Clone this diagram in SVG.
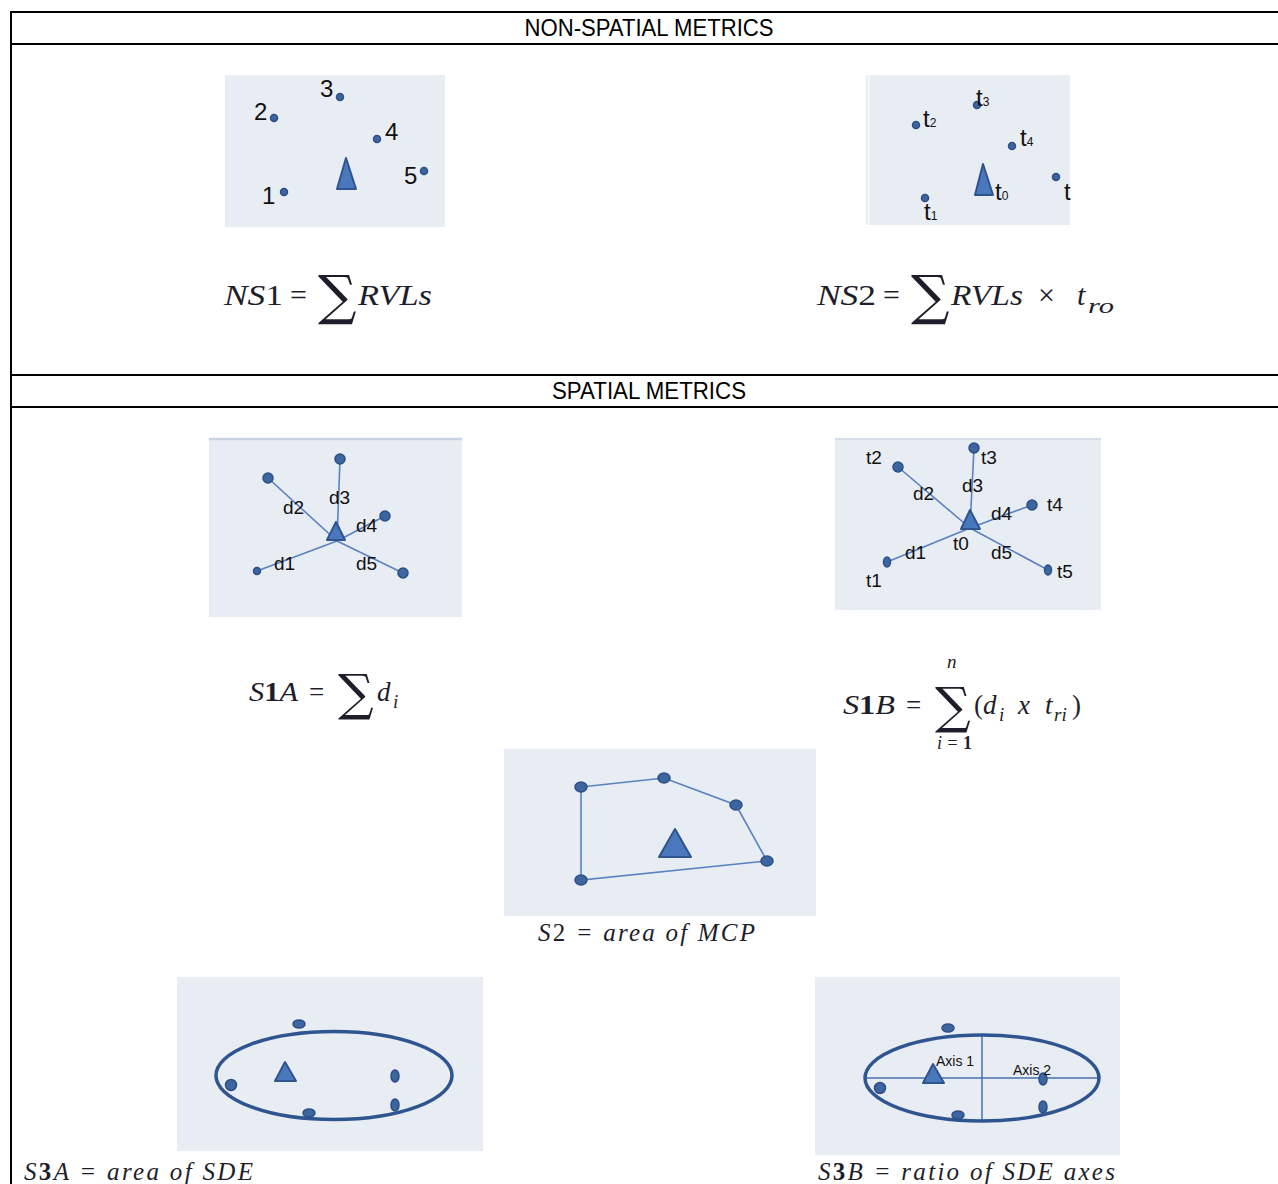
<svg xmlns="http://www.w3.org/2000/svg" width="1278" height="1184" viewBox="0 0 1278 1184">
<style>
.hdr{font-family:'Liberation Sans Narrow','Liberation Sans',Arial,sans-serif;font-size:23px;fill:#000;text-anchor:middle}
.panel{fill:#e8ecf3}
.dot{fill:#3d65a0;stroke:#2c4f85;stroke-width:1.5}
.tri{fill:#4a78bd;stroke:#2f5590;stroke-width:2;stroke-linejoin:round}
.ray{stroke:#5a82c0;stroke-width:1.6;fill:none}
.lbl{font-family:'Liberation Sans',Arial,sans-serif;fill:#111}
.num{font-family:'Liberation Sans',Arial,sans-serif;font-size:24px;fill:#111}
.math{font-family:'Liberation Serif','DejaVu Serif',serif;fill:#1e1e2a}
.it{font-style:italic}
.sum{font-family:'DejaVu Serif','Liberation Serif',serif;fill:#1e1e2a}
.tab{stroke:#000;stroke-width:2;fill:none}
.ell{fill:none;stroke:#2f5590;stroke-width:3.5}
</style>
<g id="table">
<line class="tab" x1="11" y1="12" x2="1278" y2="12"/>
<line class="tab" x1="11" y1="44" x2="1278" y2="44"/>
<line class="tab" x1="11" y1="375" x2="1278" y2="375"/>
<line class="tab" x1="11" y1="407" x2="1278" y2="407"/>
<line class="tab" x1="11" y1="11" x2="11" y2="1184"/>
<text class="hdr" x="649" y="36" textLength="249" lengthAdjust="spacingAndGlyphs">NON-SPATIAL METRICS</text>
<text class="hdr" x="649" y="399" textLength="194" lengthAdjust="spacingAndGlyphs">SPATIAL METRICS</text>
</g>
<g id="ns1">
<rect class="panel" x="225" y="75" width="220" height="152"/>
<circle class="dot" cx="274" cy="118" r="3.5"/>
<circle class="dot" cx="340" cy="97" r="3.5"/>
<circle class="dot" cx="377" cy="139" r="3.5"/>
<circle class="dot" cx="424" cy="171" r="3.5"/>
<circle class="dot" cx="284" cy="192" r="3.5"/>
<polygon class="tri" points="346,158 337,189 356,189"/>
<text class="num" x="254" y="120">2</text>
<text class="num" x="320" y="97">3</text>
<text class="num" x="385" y="140">4</text>
<text class="num" x="404" y="184">5</text>
<text class="num" x="262" y="204">1</text>
<text class="math it" x="224" y="305" font-size="30" textLength="59" lengthAdjust="spacingAndGlyphs">NS<tspan font-style="normal">1</tspan></text>
<text class="math" x="290" y="305" font-size="30">=</text>
<text class="sum" x="318" y="314" font-size="54">∑</text>
<text class="math it" x="358" y="305" font-size="30" textLength="74" lengthAdjust="spacingAndGlyphs">RVLs</text>
</g>
<g id="ns2">
<rect class="panel" x="866" y="75" width="204" height="150"/>
<line x1="868.5" y1="75" x2="868.5" y2="225" stroke="#f6f8fb" stroke-width="2"/>
<circle class="dot" cx="916" cy="125" r="3.5"/>
<circle class="dot" cx="977" cy="105" r="3.5"/>
<circle class="dot" cx="1012" cy="146" r="3.5"/>
<circle class="dot" cx="1056" cy="177" r="3.5"/>
<circle class="dot" cx="925" cy="198" r="3.5"/>
<polygon class="tri" points="983,164 975,195 993,195"/>
<text class="num" x="923" y="127">t<tspan font-size="12">2</tspan></text>
<text class="num" x="976" y="106">t<tspan font-size="12">3</tspan></text>
<text class="num" x="1020" y="146">t<tspan font-size="12">4</tspan></text>
<text class="num" x="1064" y="200">t</text>
<text class="num" x="995" y="200">t<tspan font-size="12">0</tspan></text>
<text class="num" x="924" y="220">t<tspan font-size="12">1</tspan></text>
<text class="math it" x="817" y="305" font-size="30" textLength="59" lengthAdjust="spacingAndGlyphs">NS<tspan font-style="normal">2</tspan></text>
<text class="math" x="883" y="305" font-size="30">=</text>
<text class="sum" x="911" y="314" font-size="54">∑</text>
<text class="math it" x="951" y="305" font-size="30" textLength="72" lengthAdjust="spacingAndGlyphs">RVLs</text>
<text class="math" x="1038" y="305" font-size="30">×</text>
<text class="math it" x="1077" y="305" font-size="30">t</text>
<text class="math it" x="1088" y="313" font-size="22" textLength="26" lengthAdjust="spacingAndGlyphs">ro</text>
</g>
<g id="s1a">
<rect class="panel" x="209" y="438" width="253" height="179"/>
<line x1="209" y1="439" x2="462" y2="439" stroke="#c9d3e4" stroke-width="2.5"/>
<g class="ray">
<line x1="268" y1="478" x2="337" y2="541"/>
<line x1="340" y1="459" x2="337" y2="541"/>
<line x1="385" y1="516" x2="337" y2="541"/>
<line x1="257" y1="571" x2="337" y2="541"/>
<line x1="403" y1="573" x2="337" y2="541"/>
</g>
<circle class="dot" cx="268" cy="478" r="5"/>
<circle class="dot" cx="340" cy="459" r="5"/>
<circle class="dot" cx="385" cy="516" r="5"/>
<circle class="dot" cx="257" cy="571" r="3.5"/>
<circle class="dot" cx="403" cy="573" r="5"/>
<polygon class="tri" points="336,522 327,540 345,540"/>
<g class="lbl" font-size="19">
<text x="283" y="514">d2</text>
<text x="329" y="504">d3</text>
<text x="356" y="532">d4</text>
<text x="274" y="570">d1</text>
<text x="356" y="570">d5</text>
</g>
<text class="math it" x="249" y="701" font-size="27" textLength="49" lengthAdjust="spacingAndGlyphs">S<tspan font-style="normal" font-weight="bold">1</tspan>A</text>
<text class="math" x="309" y="701" font-size="27">=</text>
<text class="sum" x="338" y="710" font-size="50">∑</text>
<text class="math it" x="377" y="701" font-size="27">d</text>
<text class="math it" x="393" y="708" font-size="19">i</text>
</g>
<g id="s1b">
<rect class="panel" x="835" y="438" width="266" height="172"/>
<line x1="835" y1="439" x2="1101" y2="439" stroke="#d6dde9" stroke-width="2"/>
<g class="ray">
<line x1="898" y1="467" x2="970" y2="528"/>
<line x1="974" y1="448" x2="970" y2="528"/>
<line x1="1032" y1="505" x2="970" y2="528"/>
<line x1="887" y1="562" x2="970" y2="528"/>
<line x1="1048" y1="570" x2="970" y2="528"/>
</g>
<circle class="dot" cx="898" cy="467" r="5"/>
<circle class="dot" cx="974" cy="448" r="5"/>
<circle class="dot" cx="1032" cy="505" r="5"/>
<ellipse class="dot" cx="887" cy="562" rx="3.5" ry="5"/>
<ellipse class="dot" cx="1048" cy="570" rx="3.5" ry="5"/>
<polygon class="tri" points="970,510 961,529 980,529"/>
<g class="lbl" font-size="19">
<text x="866" y="464">t2</text>
<text x="981" y="464">t3</text>
<text x="913" y="500">d2</text>
<text x="962" y="492">d3</text>
<text x="991" y="520">d4</text>
<text x="1047" y="511">t4</text>
<text x="953" y="550">t0</text>
<text x="905" y="559">d1</text>
<text x="991" y="559">d5</text>
<text x="866" y="587">t1</text>
<text x="1057" y="578">t5</text>
</g>
<text class="math it" x="843" y="714" font-size="27" textLength="52" lengthAdjust="spacingAndGlyphs">S<tspan font-style="normal" font-weight="bold">1</tspan>B</text>
<text class="math" x="906" y="714" font-size="27">=</text>
<text class="sum" x="935" y="723" font-size="50">∑</text>
<text class="math it" x="947" y="668" font-size="19">n</text>
<text class="math it" x="937" y="749" font-size="18" textLength="35" lengthAdjust="spacing">i<tspan font-style="normal">=</tspan><tspan font-style="normal" font-weight="bold">1</tspan></text>
<text class="math" x="974" y="714" font-size="27">(</text>
<text class="math it" x="983" y="714" font-size="27">d</text>
<text class="math it" x="999" y="721" font-size="19">i</text>
<text class="math it" x="1018" y="714" font-size="27">x</text>
<text class="math it" x="1045" y="714" font-size="27">t</text>
<text class="math it" x="1054" y="721" font-size="19">ri</text>
<text class="math" x="1072" y="714" font-size="27">)</text>
</g>
<g id="s2">
<rect class="panel" x="504" y="749" width="312" height="167"/>
<polygon class="ray" points="581,787 664,778 736,805 767,861 581,880"/>
<ellipse class="dot" cx="581" cy="787" rx="6" ry="5"/>
<ellipse class="dot" cx="664" cy="778" rx="6" ry="5"/>
<ellipse class="dot" cx="736" cy="805" rx="6" ry="5"/>
<ellipse class="dot" cx="767" cy="861" rx="6" ry="5"/>
<ellipse class="dot" cx="581" cy="880" rx="6" ry="5"/>
<polygon class="tri" points="675,829 659,857 691,857"/>
<text class="math it" x="538" y="941" font-size="25" textLength="217" lengthAdjust="spacing">S<tspan font-style="normal">2</tspan> = area of MCP</text>
</g>
<g id="s3a">
<rect class="panel" x="177" y="977" width="306" height="174"/>
<ellipse class="ell" cx="334" cy="1075.5" rx="118" ry="44"/>
<ellipse class="dot" cx="299" cy="1024" rx="6" ry="4"/>
<circle class="dot" cx="231" cy="1085" r="5.5"/>
<ellipse class="dot" cx="395" cy="1076" rx="4" ry="6"/>
<ellipse class="dot" cx="395" cy="1105" rx="4" ry="6"/>
<ellipse class="dot" cx="309" cy="1113" rx="6" ry="4"/>
<polygon class="tri" points="285,1062 275,1081 296,1081"/>
<text class="math it" x="24" y="1180" font-size="25" textLength="229" lengthAdjust="spacing">S<tspan font-style="normal" font-weight="bold">3</tspan>A = area of SDE</text>
</g>
<g id="s3b">
<rect class="panel" x="815" y="977" width="305" height="178"/>
<line x1="866" y1="1078" x2="1098" y2="1078" stroke="#4a72b0" stroke-width="1.5"/>
<line x1="982" y1="1035" x2="982" y2="1121" stroke="#4a72b0" stroke-width="1.5"/>
<ellipse class="ell" cx="982" cy="1078" rx="117" ry="43"/>
<ellipse class="dot" cx="948" cy="1028" rx="6" ry="4"/>
<circle class="dot" cx="880" cy="1088" r="5.5"/>
<ellipse class="dot" cx="1043" cy="1079" rx="4" ry="6"/>
<ellipse class="dot" cx="1043" cy="1107" rx="4" ry="6"/>
<ellipse class="dot" cx="958" cy="1115" rx="6" ry="4"/>
<polygon class="tri" points="933,1064 923,1083 944,1083"/>
<text class="lbl" x="936" y="1066" font-size="14">Axis 1</text>
<text class="lbl" x="1013" y="1075" font-size="14">Axis 2</text>
<text class="math it" x="818" y="1180" font-size="25" textLength="297" lengthAdjust="spacing">S<tspan font-style="normal" font-weight="bold">3</tspan>B = ratio of SDE axes</text>
</g>
</svg>
